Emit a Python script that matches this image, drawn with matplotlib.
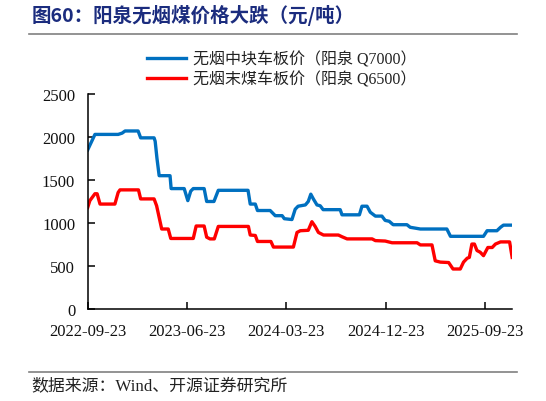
import numpy as np
import pandas as pd
import matplotlib
matplotlib.use("Agg")
import matplotlib.pyplot as plt
import matplotlib.dates as mdates

# 无烟中块车板价（阳泉 Q7000）
lump_dates = ["2022-09-23", "2022-10-13", "2022-12-16", "2022-12-27", "2023-01-04", "2023-02-09",
              "2023-02-16", "2023-03-25", "2023-03-28", "2023-04-02", "2023-04-08", "2023-05-08",
              "2023-05-11", "2023-06-16", "2023-06-26", "2023-07-04", "2023-07-11", "2023-08-10",
              "2023-08-17", "2023-09-06", "2023-09-18", "2023-12-09", "2023-12-15", "2023-12-29",
              "2024-01-04", "2024-02-08", "2024-02-22", "2024-03-12", "2024-03-18", "2024-04-08",
              "2024-04-17", "2024-04-25", "2024-05-15", "2024-05-23", "2024-05-30", "2024-06-06",
              "2024-06-16", "2024-06-25", "2024-07-03", "2024-08-19", "2024-08-24", "2024-10-11",
              "2024-10-18", "2024-11-01", "2024-11-10", "2024-11-24", "2024-12-12", "2024-12-21",
              "2025-01-01", "2025-01-12", "2025-02-19", "2025-02-28", "2025-03-28", "2025-06-09",
              "2025-06-19", "2025-09-18", "2025-09-28", "2025-10-25", "2025-11-04", "2025-11-12",
              "2025-12-06"]
lump_price = [1850, 2030, 2030, 2045, 2070, 2070,
              1990, 1990, 1950, 1750, 1550, 1550,
              1400, 1400, 1260, 1370, 1400, 1400,
              1250, 1250, 1380, 1380, 1220, 1220,
              1145, 1145, 1085, 1085, 1050, 1040,
              1160, 1195, 1210, 1250, 1335, 1280,
              1210, 1200, 1155, 1155, 1095, 1095,
              1195, 1195, 1125, 1080, 1080, 1030,
              1020, 980, 980, 950, 930, 930,
              845, 845, 910, 910, 950, 975,
              975]

# 无烟末煤车板价（阳泉 Q6500）
fines_dates = ["2022-09-23", "2022-09-29", "2022-10-13", "2022-10-19", "2022-10-27", "2022-12-07",
               "2022-12-16", "2022-12-21", "2023-02-10", "2023-02-16", "2023-03-25", "2023-04-01",
               "2023-04-15", "2023-05-03", "2023-05-10", "2023-07-11", "2023-07-19", "2023-08-10",
               "2023-08-17", "2023-08-26", "2023-09-07", "2023-09-18", "2023-12-10", "2023-12-15",
               "2023-12-29", "2024-01-04", "2024-02-10", "2024-02-17", "2024-04-12", "2024-04-22",
               "2024-05-01", "2024-05-23", "2024-06-02", "2024-06-11", "2024-06-20", "2024-07-04",
               "2024-08-14", "2024-08-24", "2024-09-07", "2024-11-15", "2024-11-24", "2024-12-21",
               "2025-01-09", "2025-03-19", "2025-03-28", "2025-04-29", "2025-05-08", "2025-05-22",
               "2025-06-14", "2025-06-26", "2025-07-16", "2025-07-25", "2025-08-04", "2025-08-10",
               "2025-08-17", "2025-08-24", "2025-08-31", "2025-09-09", "2025-09-18", "2025-09-30",
               "2025-10-12", "2025-10-21", "2025-11-04", "2025-11-29", "2025-12-06"]
fines_price = [1180, 1260, 1340, 1340, 1220, 1220,
               1355, 1385, 1385, 1280, 1280, 1200,
               930, 930, 820, 820, 965, 965,
               835, 815, 815, 960, 960, 860,
               855, 785, 785, 720, 720, 890,
               910, 915, 1015, 960, 890, 860,
               860, 840, 815, 815, 795, 790,
               770, 770, 745, 745, 560, 545,
               540, 465, 465, 545, 590, 600,
               755, 755, 680, 660, 620, 715,
               715, 755, 780, 780, 600]

tick_dates = ["2022-09-23", "2023-06-23", "2024-03-23", "2024-12-23", "2025-09-23"]

lump_x = pd.to_datetime(lump_dates)
fines_x = pd.to_datetime(fines_dates)
ticks = pd.to_datetime(tick_dates)

serif_cjk = ["Liberation Serif", "Noto Sans CJK SC"]

fig = plt.figure(figsize=(5.46, 4.02), dpi=100, facecolor="white")
ax = fig.add_axes([0.1606, 0.2289, 0.7774, 0.5348])

ax.plot(lump_x, lump_price, color="#0070C0", lw=2.4, label="无烟中块车板价（阳泉 Q7000）")
ax.plot(fines_x, fines_price, color="#FF0000", lw=2.4, label="无烟末煤车板价（阳泉 Q6500）")

ax.set_xlim(lump_x[0], lump_x[-1])
ax.set_ylim(0, 2500)
ax.set_yticks(np.arange(0, 2501, 500))
ax.set_xticks(ticks)
ax.xaxis.set_major_formatter(mdates.DateFormatter("%Y-%m-%d"))

for s in ["top", "right"]:
    ax.spines[s].set_visible(False)
for s in ["left", "bottom"]:
    ax.spines[s].set_linewidth(1.1)
ax.tick_params(axis="both", direction="in", length=5, width=1.1, labelsize=12)
ax.tick_params(axis="y", pad=9)
ax.tick_params(axis="x", pad=10)
for lab in ax.get_xticklabels() + ax.get_yticklabels():
    lab.set_fontfamily("Liberation Serif")
    lab.set_color("#111111")

leg = ax.legend(loc="center", bbox_to_anchor=(0.5165, 0.8245), bbox_transform=fig.transFigure,
                frameon=False, ncol=1, handlelength=2.4, handletextpad=0.45, labelspacing=0.25,
                prop={"family": serif_cjk, "size": 11.5})
for t in leg.get_texts():
    t.set_color("#222222")

fig.text(0.057, 0.962, "图60：阳泉无烟煤价格大跌（元/吨）", fontsize=14, fontweight="bold",
         color="#1B2C7E", family=["Noto Sans CJK SC", "DejaVu Sans"], va="center", ha="left")
fig.add_artist(plt.Line2D([0.053, 0.947], [0.913, 0.913], transform=fig.transFigure,
                          color="#808080", lw=1.2))
fig.add_artist(plt.Line2D([0.053, 0.947], [0.072, 0.072], transform=fig.transFigure,
                          color="#808080", lw=1.2))
fig.text(0.057, 0.040, "数据来源：Wind、开源证券研究所", fontsize=12.2, color="#222222",
         family=serif_cjk, va="center", ha="left")

fig.savefig("out.png", dpi=100, facecolor="white")
